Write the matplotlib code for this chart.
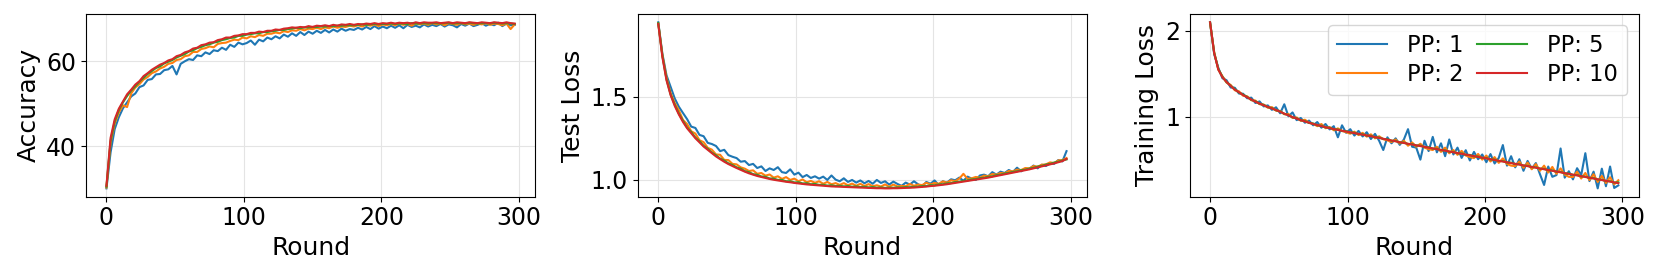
import numpy as np
import matplotlib
matplotlib.use("Agg")
import matplotlib.pyplot as plt

# rounds are sampled every 3 rounds (0, 3, ..., 297)
step = 3
labels = ['PP: 1', 'PP: 2', 'PP: 5', 'PP: 10']
colors = ['tab:blue', 'tab:orange', 'tab:green', 'tab:red']

# Accuracy
acc_pp1 = [30.0, 38.5, 44.0, 46.8, 48.9, 50.3, 51.7, 52.4, 53.9, 54.3,
           55.6, 55.8, 56.9, 57.0, 57.9, 58.1, 58.9, 56.9, 59.4, 60.0,
           60.5, 60.3, 61.4, 61.2, 62.1, 61.7, 62.6, 62.4, 63.2, 62.7,
           63.9, 63.4, 64.4, 64.0, 64.3, 64.9, 63.9, 65.1, 64.7, 65.6,
           65.2, 65.9, 65.4, 66.3, 65.8, 66.6, 66.0, 66.9, 66.2, 67.0,
           66.5, 67.2, 66.7, 67.4, 66.8, 67.5, 67.0, 67.7, 67.2, 67.6,
           67.4, 67.9, 67.5, 68.1, 67.6, 68.3, 67.7, 68.2, 67.8, 68.4,
           67.9, 68.5, 67.8, 68.6, 68.1, 68.4, 68.0, 68.7, 68.2, 68.6,
           68.3, 68.8, 68.2, 68.7, 68.5, 68.0, 68.8, 68.4, 68.9, 68.3,
           68.6, 69.0, 68.4, 68.8, 68.5, 69.1, 68.3, 68.9, 68.5, 68.6]
acc_pp2 = [30.2, 40.8, 45.3, 47.9, 49.6, 49.2, 52.4, 53.8, 54.6, 55.7,
           56.3, 57.2, 57.6, 58.3, 58.7, 59.4, 59.6, 60.3, 60.5, 61.2,
           61.4, 62.2, 62.2, 62.9, 63.1, 63.5, 63.3, 64.1, 64.3, 64.4,
           64.8, 65.1, 65.0, 65.6, 65.4, 65.9, 65.7, 66.2, 66.0, 66.5,
           66.5, 66.8, 66.6, 67.1, 66.9, 67.3, 67.2, 67.6, 67.3, 67.7,
           67.6, 67.9, 67.6, 68.0, 67.8, 68.2, 67.9, 68.2, 68.1, 68.4,
           68.2, 68.5, 68.2, 68.6, 68.4, 68.7, 68.3, 68.7, 68.5, 68.8,
           68.5, 68.9, 68.6, 68.8, 68.4, 68.9, 68.7, 68.9, 68.6, 69.0,
           68.7, 68.9, 68.5, 69.0, 68.8, 68.6, 69.0, 68.7, 68.9, 68.6,
           68.9, 68.7, 69.0, 68.6, 68.9, 68.8, 68.5, 68.9, 67.6, 68.7]
acc_pp5 = [30.4, 41.2, 45.8, 48.5, 50.3, 51.8, 53.1, 54.1, 55.2, 56.1,
           57.0, 57.7, 58.4, 58.8, 59.5, 59.9, 60.3, 60.9, 61.3, 61.7,
           62.3, 62.6, 63.1, 63.4, 63.8, 64.0, 64.4, 64.6, 65.0, 65.2,
           65.5, 65.6, 66.0, 66.0, 66.3, 66.4, 66.6, 66.6, 66.9, 66.9,
           67.1, 67.2, 67.4, 67.4, 67.6, 67.7, 67.9, 67.8, 68.0, 68.0,
           68.1, 68.1, 68.2, 68.2, 68.3, 68.3, 68.4, 68.4, 68.5, 68.5,
           68.5, 68.6, 68.7, 68.6, 68.7, 68.8, 68.7, 68.8, 68.8, 68.9,
           68.8, 68.9, 68.9, 68.8, 69.0, 68.9, 68.9, 69.0, 68.9, 69.0,
           69.0, 68.9, 69.0, 69.1, 68.9, 69.0, 69.0, 68.9, 69.1, 69.0,
           68.9, 69.0, 69.0, 68.9, 69.1, 69.0, 68.9, 69.0, 68.9, 68.8]
acc_pp10 = [30.6, 41.9, 46.3, 48.8, 50.5, 52.2, 53.3, 54.5, 55.3, 56.5,
            57.2, 58.0, 58.6, 59.2, 59.6, 60.2, 60.5, 61.2, 61.5, 62.1,
            62.4, 63.0, 63.2, 63.8, 64.0, 64.4, 64.5, 65.0, 65.2, 65.6,
            65.6, 66.0, 66.1, 66.4, 66.4, 66.7, 66.7, 67.0, 66.9, 67.2,
            67.2, 67.5, 67.4, 67.7, 67.8, 68.0, 67.9, 68.1, 68.0, 68.3,
            68.1, 68.4, 68.3, 68.5, 68.3, 68.6, 68.4, 68.7, 68.6, 68.8,
            68.6, 68.8, 68.7, 68.9, 68.8, 69.0, 68.8, 69.0, 68.9, 69.1,
            68.9, 69.1, 69.0, 69.1, 68.9, 69.2, 69.0, 69.2, 69.1, 69.1,
            69.2, 69.0, 69.1, 69.2, 69.0, 69.2, 69.1, 69.0, 69.2, 69.1,
            69.0, 69.2, 69.1, 69.0, 69.2, 69.1, 69.0, 69.2, 69.0, 68.9]

# Test loss
test_pp1 = [1.950, 1.760, 1.630, 1.560, 1.490, 1.440, 1.402, 1.365, 1.320, 1.312,
            1.270, 1.262, 1.222, 1.215, 1.203, 1.172, 1.180, 1.148, 1.138, 1.130,
            1.108, 1.112, 1.088, 1.095, 1.070, 1.080, 1.052, 1.068, 1.058, 1.075,
            1.045, 1.040, 1.062, 1.030, 1.042, 1.015, 1.028, 1.010, 1.020, 1.006,
            1.018, 0.998, 1.025, 1.000, 0.990, 1.008, 0.986, 0.998, 0.982, 0.995,
            0.978, 0.992, 0.975, 0.998, 0.980, 0.990, 0.970, 0.988, 0.974, 0.962,
            0.982, 0.970, 0.990, 0.972, 0.958, 0.986, 0.975, 0.995, 0.968, 0.990,
            0.982, 1.002, 0.996, 1.012, 0.993, 1.018, 1.006, 0.998, 1.025, 1.030,
            1.020, 1.045, 1.030, 1.048, 1.040, 1.058, 1.046, 1.072, 1.050, 1.066,
            1.064, 1.085, 1.068, 1.090, 1.082, 1.098, 1.095, 1.118, 1.110, 1.172]
test_pp2 = [1.945, 1.752, 1.615, 1.522, 1.462, 1.418, 1.360, 1.335, 1.292, 1.278,
            1.238, 1.226, 1.192, 1.181, 1.152, 1.150, 1.119, 1.118, 1.095, 1.092,
            1.074, 1.066, 1.052, 1.056, 1.035, 1.040, 1.024, 1.031, 1.012, 1.020,
            1.004, 1.015, 0.998, 1.006, 0.990, 1.001, 0.984, 0.992, 0.981, 0.990,
            0.975, 0.986, 0.972, 0.979, 0.968, 0.979, 0.966, 0.976, 0.963, 0.975,
            0.961, 0.973, 0.960, 0.966, 0.958, 0.971, 0.957, 0.970, 0.959, 0.962,
            0.960, 0.974, 0.963, 0.970, 0.967, 0.981, 0.971, 0.980, 0.975, 0.989,
            0.982, 0.996, 0.990, 1.006, 1.035, 1.004, 1.008, 1.016, 1.012, 1.024,
            1.020, 1.034, 1.030, 1.040, 1.038, 1.052, 1.050, 1.060, 1.058, 1.070,
            1.068, 1.082, 1.078, 1.090, 1.092, 1.104, 1.100, 1.116, 1.118, 1.130]
test_pp5 = [1.945, 1.748, 1.606, 1.514, 1.452, 1.398, 1.355, 1.314, 1.287, 1.254,
            1.232, 1.204, 1.186, 1.163, 1.147, 1.127, 1.115, 1.098, 1.088, 1.074,
            1.066, 1.051, 1.045, 1.033, 1.029, 1.019, 1.017, 1.007, 1.006, 0.998,
            0.998, 0.990, 0.990, 0.983, 0.984, 0.977, 0.978, 0.972, 0.974, 0.968,
            0.969, 0.964, 0.966, 0.961, 0.963, 0.959, 0.961, 0.957, 0.959, 0.955,
            0.957, 0.953, 0.955, 0.951, 0.953, 0.950, 0.952, 0.951, 0.953, 0.952,
            0.955, 0.954, 0.957, 0.957, 0.961, 0.961, 0.966, 0.966, 0.971, 0.972,
            0.977, 0.979, 0.985, 0.987, 0.993, 0.995, 1.001, 1.003, 1.009, 1.011,
            1.017, 1.020, 1.027, 1.030, 1.037, 1.040, 1.047, 1.050, 1.057, 1.060,
            1.067, 1.071, 1.079, 1.083, 1.091, 1.095, 1.103, 1.108, 1.116, 1.122]
test_pp10 = [1.940, 1.740, 1.600, 1.510, 1.445, 1.393, 1.348, 1.310, 1.280, 1.250,
             1.225, 1.200, 1.180, 1.160, 1.140, 1.124, 1.108, 1.094, 1.082, 1.070,
             1.059, 1.048, 1.038, 1.030, 1.022, 1.016, 1.010, 1.004, 0.999, 0.995,
             0.991, 0.987, 0.984, 0.980, 0.977, 0.974, 0.971, 0.969, 0.967, 0.965,
             0.963, 0.961, 0.959, 0.958, 0.957, 0.956, 0.955, 0.954, 0.953, 0.952,
             0.951, 0.950, 0.949, 0.948, 0.948, 0.947, 0.947, 0.948, 0.948, 0.949,
             0.950, 0.951, 0.952, 0.954, 0.956, 0.958, 0.961, 0.963, 0.966, 0.969,
             0.972, 0.976, 0.980, 0.984, 0.988, 0.992, 0.996, 1.000, 1.004, 1.008,
             1.012, 1.017, 1.022, 1.027, 1.032, 1.037, 1.042, 1.047, 1.052, 1.057,
             1.062, 1.068, 1.074, 1.080, 1.086, 1.092, 1.098, 1.105, 1.112, 1.125]

# Training loss
train_pp1 = [2.100, 1.730, 1.570, 1.448, 1.425, 1.340, 1.338, 1.270, 1.268, 1.215,
             1.222, 1.160, 1.178, 1.120, 1.132, 1.080, 1.110, 1.040, 1.145, 1.005,
             1.050, 0.960, 0.985, 0.930, 0.955, 0.900, 0.938, 0.872, 0.915, 0.852,
             0.890, 0.760, 0.900, 0.812, 0.855, 0.780, 0.835, 0.770, 0.820, 0.740,
             0.800, 0.720, 0.612, 0.760, 0.690, 0.748, 0.672, 0.735, 0.855, 0.650,
             0.640, 0.500, 0.720, 0.600, 0.765, 0.585, 0.690, 0.540, 0.735, 0.560,
             0.640, 0.520, 0.610, 0.490, 0.590, 0.505, 0.560, 0.470, 0.565, 0.455,
             0.520, 0.670, 0.430, 0.540, 0.410, 0.505, 0.370, 0.485, 0.395, 0.460,
             0.330, 0.205, 0.420, 0.300, 0.320, 0.630, 0.290, 0.365, 0.270, 0.400,
             0.320, 0.575, 0.250, 0.360, 0.165, 0.395, 0.190, 0.420, 0.170, 0.200]
train_pp2 = [2.095, 1.752, 1.548, 1.472, 1.398, 1.370, 1.308, 1.296, 1.245, 1.238,
             1.192, 1.188, 1.146, 1.142, 1.105, 1.112, 1.070, 1.068, 1.028, 1.032,
             0.985, 0.992, 0.952, 0.965, 0.930, 0.918, 0.890, 0.915, 0.866, 0.880,
             0.842, 0.864, 0.835, 0.820, 0.802, 0.826, 0.786, 0.812, 0.768, 0.795,
             0.748, 0.772, 0.738, 0.725, 0.705, 0.735, 0.688, 0.720, 0.662, 0.700,
             0.650, 0.685, 0.640, 0.622, 0.612, 0.650, 0.590, 0.640, 0.574, 0.612,
             0.556, 0.602, 0.548, 0.530, 0.518, 0.566, 0.500, 0.548, 0.478, 0.530,
             0.462, 0.515, 0.450, 0.430, 0.425, 0.478, 0.405, 0.465, 0.388, 0.448,
             0.370, 0.430, 0.350, 0.415, 0.335, 0.398, 0.325, 0.300, 0.298, 0.360,
             0.280, 0.345, 0.262, 0.330, 0.240, 0.310, 0.228, 0.295, 0.212, 0.260]
train_pp5 = [2.098, 1.745, 1.556, 1.466, 1.402, 1.362, 1.320, 1.281, 1.258, 1.230,
             1.196, 1.180, 1.150, 1.138, 1.111, 1.100, 1.075, 1.062, 1.033, 1.020,
             0.993, 0.982, 0.958, 0.950, 0.927, 0.921, 0.900, 0.895, 0.875, 0.872,
             0.853, 0.851, 0.833, 0.832, 0.815, 0.814, 0.797, 0.796, 0.779, 0.778,
             0.760, 0.758, 0.740, 0.738, 0.720, 0.718, 0.700, 0.699, 0.682, 0.681,
             0.664, 0.663, 0.646, 0.645, 0.628, 0.627, 0.610, 0.609, 0.592, 0.591,
             0.574, 0.573, 0.556, 0.555, 0.538, 0.537, 0.520, 0.519, 0.502, 0.501,
             0.484, 0.483, 0.466, 0.465, 0.448, 0.447, 0.430, 0.429, 0.412, 0.411,
             0.394, 0.393, 0.376, 0.375, 0.358, 0.357, 0.340, 0.339, 0.322, 0.321,
             0.304, 0.303, 0.286, 0.285, 0.268, 0.267, 0.250, 0.249, 0.232, 0.236]
train_pp10 = [2.100, 1.740, 1.550, 1.460, 1.405, 1.358, 1.316, 1.285, 1.253, 1.226,
              1.200, 1.175, 1.153, 1.133, 1.114, 1.096, 1.078, 1.058, 1.036, 1.016,
              0.996, 0.978, 0.960, 0.945, 0.930, 0.916, 0.903, 0.890, 0.878, 0.867,
              0.856, 0.846, 0.836, 0.827, 0.818, 0.809, 0.800, 0.791, 0.782, 0.773,
              0.763, 0.753, 0.743, 0.733, 0.723, 0.713, 0.703, 0.694, 0.685, 0.676,
              0.667, 0.658, 0.649, 0.640, 0.631, 0.622, 0.613, 0.604, 0.595, 0.586,
              0.577, 0.568, 0.559, 0.550, 0.541, 0.532, 0.523, 0.514, 0.505, 0.496,
              0.487, 0.478, 0.469, 0.460, 0.451, 0.442, 0.433, 0.424, 0.415, 0.406,
              0.397, 0.388, 0.379, 0.370, 0.361, 0.352, 0.343, 0.334, 0.325, 0.316,
              0.307, 0.298, 0.289, 0.280, 0.271, 0.262, 0.253, 0.244, 0.235, 0.226]

panels = [
    ('Accuracy', [acc_pp1, acc_pp2, acc_pp5, acc_pp10], [40, 60], ['40', '60']),
    ('Test Loss', [test_pp1, test_pp2, test_pp5, test_pp10], [1.0, 1.5], ['1.0', '1.5']),
    ('Training Loss', [train_pp1, train_pp2, train_pp5, train_pp10], [1, 2], ['1', '2']),
]

fig, axes = plt.subplots(1, 3, figsize=(16.61, 2.77), dpi=100)
fig.subplots_adjust(left=0.0518, right=0.9866, top=0.9495, bottom=0.2899, wspace=0.2287)

for ax, (ylabel, series, yt, ytl) in zip(axes, panels):
    for vals, lab, col in zip(series, labels, colors):
        x = np.arange(len(vals)) * step
        ax.plot(x, vals, color=col, lw=1.5, label=lab)
    ax.set_xlabel('Round', fontsize=18)
    ax.set_ylabel(ylabel, fontsize=18)
    ax.set_xticks([0, 100, 200, 300])
    ax.set_yticks(yt)
    ax.set_yticklabels(ytl)
    ax.tick_params(labelsize=17)
    ax.grid(True, color='#e4e4e4', lw=0.8)

axes[2].legend(loc='upper right', ncol=2, fontsize=16.3, handlelength=2.2,
               columnspacing=0.6, handletextpad=0.9, labelspacing=0.25)

plt.savefig('out.png', dpi=100)
